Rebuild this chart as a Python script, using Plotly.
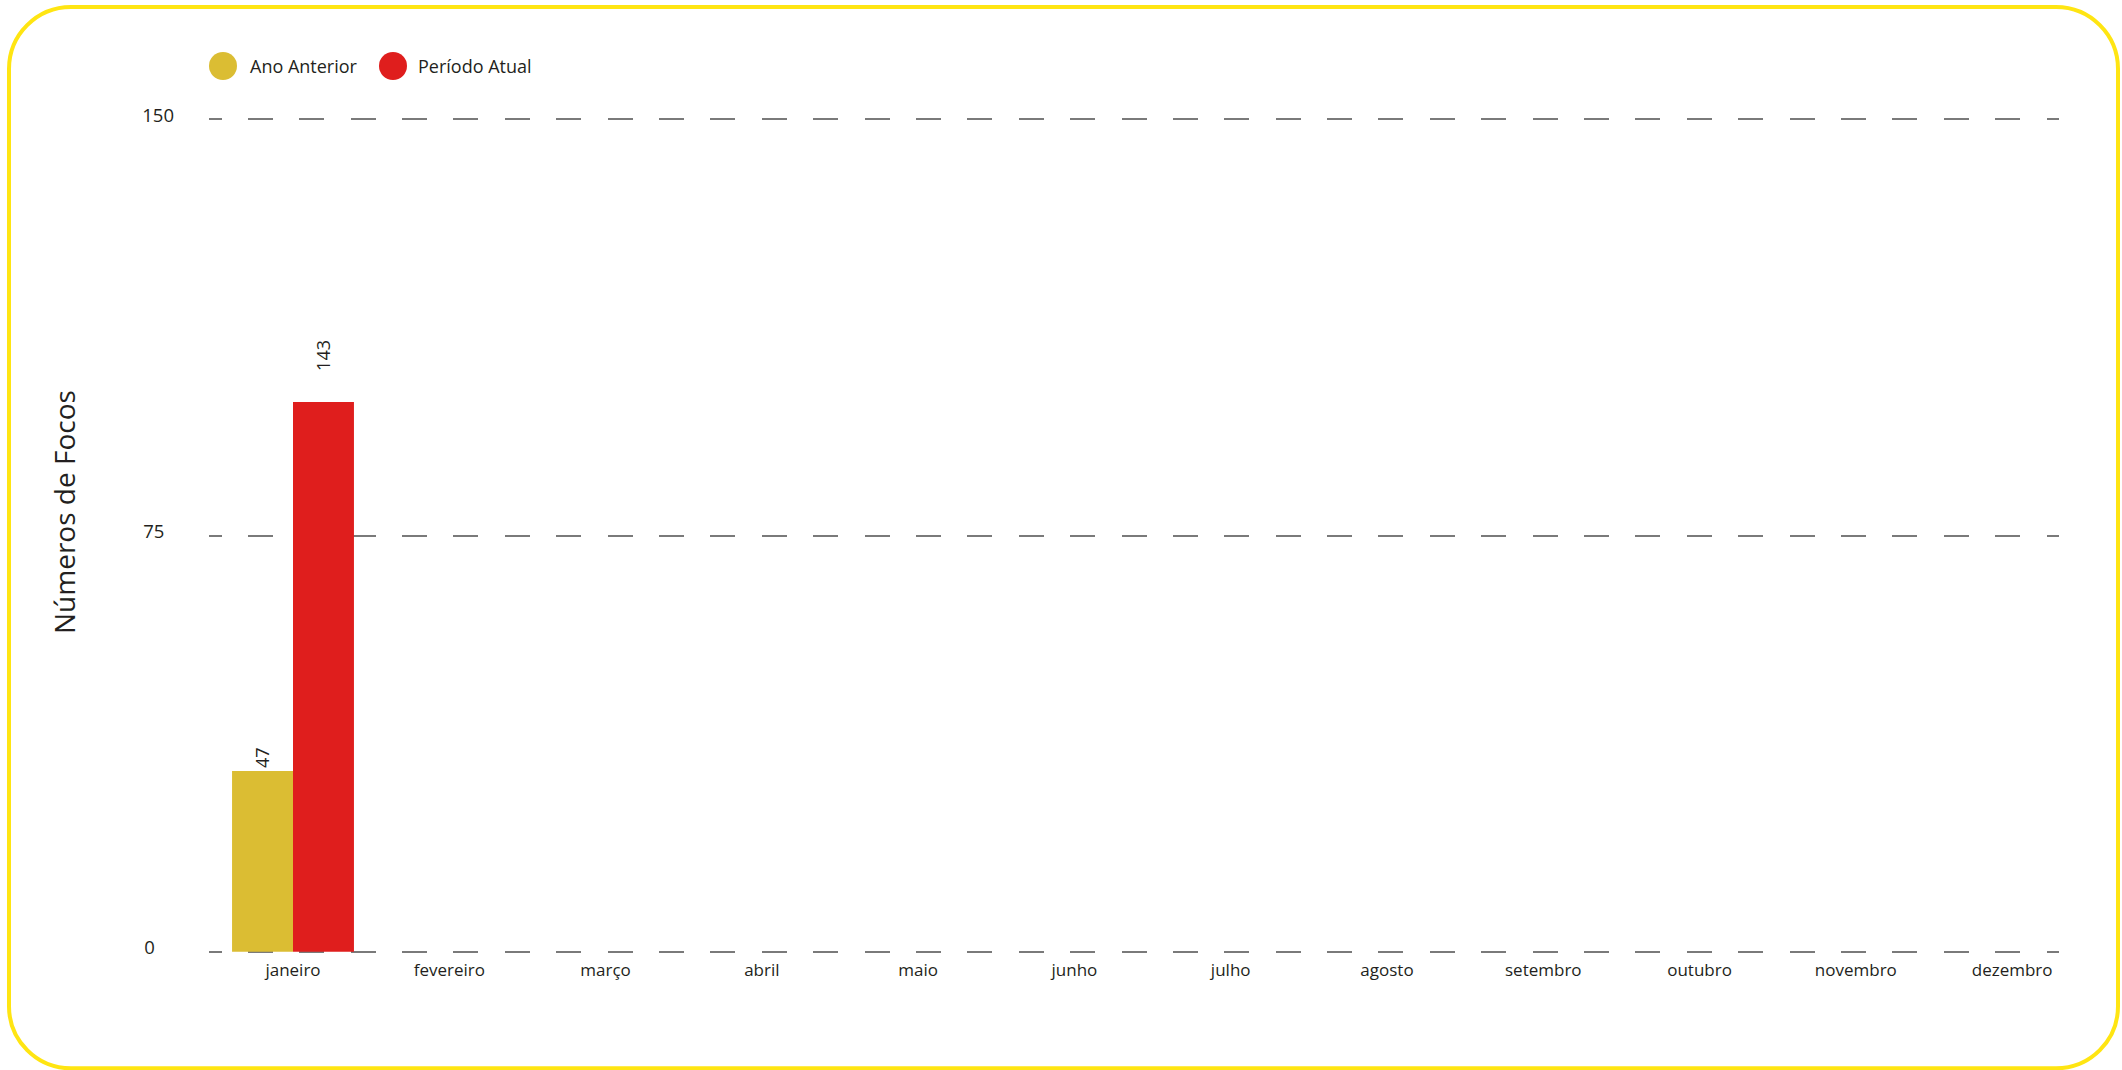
import plotly.graph_objects as go

# ---------------- data ----------------
months = ["janeiro", "fevereiro", "março", "abril", "maio", "junho",
          "julho", "agosto", "setembro", "outubro", "novembro", "dezembro"]
ano_anterior = [47, None, None, None, None, None, None, None, None, None, None, None]
periodo_atual = [143, None, None, None, None, None, None, None, None, None, None, None]
series_names = ["Ano Anterior", "Período Atual"]
y_tick_labels = ["0", "75", "150"]
y_title = "Números de Focos"

# ---------------- layout constants ----------------
W, H = 2122, 1070
ML, MR, MT, MB = 209, 63, 117, 116
PW = W - ML - MR
PH = H - MT - MB
Y_MAX = 216.5
Y_PAD = 0.6  # keeps the edge gridlines inside the plot area
X_RANGE = [-0.5375, 11.30]
BARGAP = 0.22

FONT = "Open Sans"
TXT = "#231f20"
YELLOW = "#DBBD33"
RED = "#DF1E1D"
BORDER = "#FFE512"
GRID = "#7a7a7a"
NBSP = "\u00a0"


def px_x(X):
    return (X - ML) / PW


def px_y(Y):
    return (H - MB - Y) / PH


# dashed grid: dashes centered on both ends of the plot width
n_per = 36
period = PW / n_per
dash = 25.0
gap = period - dash
pattern = [dash / 2] + [gap, dash] * (n_per - 1) + [gap, dash / 2]
griddash = ",".join(f"{v:.2f}px" for v in pattern)

fig = go.Figure()

series = [ano_anterior, periodo_atual]
colors = [YELLOW, RED]
label_shift = [1, 29]
bar_w = (1 - BARGAP) / len(series)

annotations = []
for s, (vals, name, color) in enumerate(zip(series, series_names, colors)):
    fig.add_trace(go.Bar(
        x=months, y=vals, name=name, marker_color=color,
        marker_line_width=0, showlegend=False,
    ))
    center_off = -(1 - BARGAP) / 2 + bar_w * (s + 0.5)
    for i, v in enumerate(vals):
        if v is None:
            continue
        annotations.append(dict(
            x=i + center_off, y=v, xref="x", yref="y",
            text=str(v), textangle=-90, showarrow=False,
            xanchor="center", yanchor="bottom", yshift=label_shift[s],
            font=dict(family=FONT, size=18, color=TXT),
        ))

# custom legend (large round swatches)
legend_items = [
    (series_names[0], YELLOW, 223, 248),
    (series_names[1], RED, 393, 416),
]
shapes = []
LEG_Y = 66
RAD = 14
for name, color, cx, tx in legend_items:
    shapes.append(dict(
        type="circle", xref="paper", yref="paper",
        x0=px_x(cx - RAD), x1=px_x(cx + RAD),
        y0=px_y(LEG_Y + RAD), y1=px_y(LEG_Y - RAD),
        fillcolor=color, line_width=0,
    ))
    annotations.append(dict(
        x=px_x(tx), y=px_y(LEG_Y), xref="paper", yref="paper",
        text=name, showarrow=False, xanchor="left", yanchor="middle",
        font=dict(family=FONT, size=18, color=TXT),
    ))

# y-axis title (placed slightly above the axis centre, as in the reference)
annotations.append(dict(
    x=px_x(64), y=px_y(512), xref="paper", yref="paper",
    text=y_title, textangle=-90, showarrow=False,
    xanchor="center", yanchor="middle",
    font=dict(family=FONT, size=28, color=TXT),
))

# rounded yellow frame
bl, br, bt, bb, r = 9, 2118, 7, 1068.3, 62
k = 0.5523 * r
pts = [
    ("M", [(bl + r, bt)]),
    ("L", [(br - r, bt)]),
    ("C", [(br - r + k, bt), (br, bt + r - k), (br, bt + r)]),
    ("L", [(br, bb - r)]),
    ("C", [(br, bb - r + k), (br - r + k, bb), (br - r, bb)]),
    ("L", [(bl + r, bb)]),
    ("C", [(bl + r - k, bb), (bl, bb - r + k), (bl, bb - r)]),
    ("L", [(bl, bt + r)]),
    ("C", [(bl, bt + r - k), (bl + r - k, bt), (bl + r, bt)]),
]
path = ""
for cmd, ps in pts:
    path += cmd + " ".join(f"{px_x(X):.5f},{px_y(Y):.5f}" for X, Y in ps) + " "
path += "Z"
shapes.append(dict(type="path", xref="paper", yref="paper", path=path,
                   line=dict(color=BORDER, width=4), fillcolor="rgba(0,0,0,0)"))

# tick labels padded so that they read left-aligned like the reference
longest = max(len(t) for t in y_tick_labels)
y_tick_text = [t + NBSP * (2 * (longest - len(t))) for t in y_tick_labels]

fig.update_layout(
    width=W, height=H,
    margin=dict(l=ML, r=MR, t=MT, b=MB, pad=0),
    paper_bgcolor="white", plot_bgcolor="white",
    barmode="group", bargap=BARGAP, bargroupgap=0,
    font=dict(family=FONT, color=TXT),
    annotations=annotations,
    shapes=shapes,
    showlegend=False,
)
fig.update_xaxes(
    type="category", categoryorder="array", categoryarray=months,
    range=X_RANGE,
    showgrid=False, zeroline=False, showline=False, ticks="",
    ticklabelstandoff=4,
    tickfont=dict(family=FONT, size=17, color=TXT),
    fixedrange=True,
)
fig.update_yaxes(
    range=[-Y_PAD, Y_MAX + Y_PAD],
    tickmode="array",
    tickvals=[Y_MAX * i / (len(y_tick_labels) - 1) for i in range(len(y_tick_labels))],
    ticktext=y_tick_text,
    showgrid=True, gridcolor=GRID, gridwidth=1.6, griddash=griddash,
    zeroline=False, showline=False, ticks="",
    ticklabelshift=-4, ticklabelstandoff=34,
    tickfont=dict(family=FONT, size=18.5, color=TXT),
    fixedrange=True,
)

fig.write_html(
    "out.html",
    config={"displayModeBar": False},
    post_script="document.body.style.margin='0px';document.body.style.overflow='hidden';",
)
